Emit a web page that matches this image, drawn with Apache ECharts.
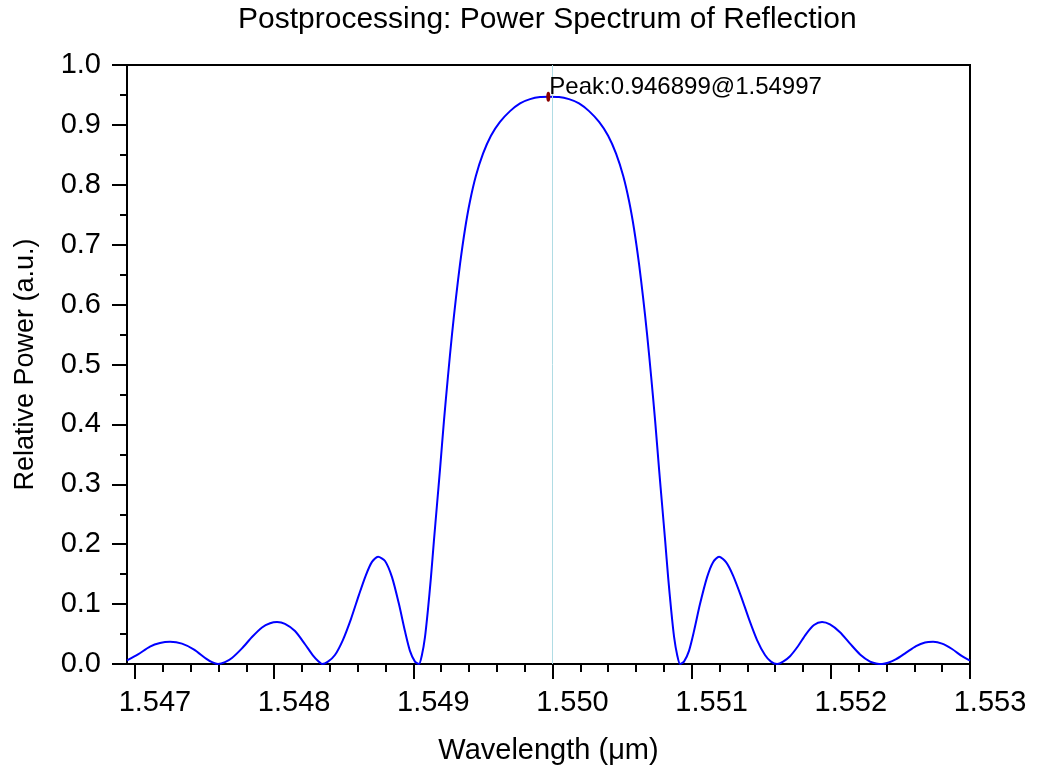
<!DOCTYPE html>
<html>
<head>
<meta charset="utf-8">
<script src="https://cdn.jsdelivr.net/npm/echarts@6/dist/echarts.min.js"></script>
<style>
html,body{margin:0;padding:0;background:#fff;}
#chart{width:1038px;height:772px;}
</style>
</head>
<body>
<div id="chart"></div>
<script>
const FONT = "'Liberation Sans', Arial, sans-serif";
const titleText = 'Postprocessing: Power Spectrum of Reflection';
const xName = 'Wavelength (\u03bcm)';
const yName = 'Relative Power (a.u.)';

const wavelength = [
  1.546943,1.547022,1.547108,1.547180,1.547252,1.547338,1.547425,1.547511,1.547554,1.547597,
  1.547647,1.547697,1.547769,1.547841,1.547913,1.547971,1.548021,1.548078,1.548150,1.548222,1.548280,1.548316,1.548344,
  1.548387,1.548437,1.548494,1.548552,1.548609,1.548659,1.548702,1.548747,1.548797,1.548847,1.548897,1.548940,1.548976,1.549012,1.549041,
  1.549062,1.549084,1.549105,1.549127,1.549148,1.549170,1.549192,1.549220,1.549249,1.549278,1.549307,1.549336,1.549371,1.549407,1.549450,1.549501,1.549558,1.549623,1.549695,1.549767,1.549839,1.549911,1.549970,
  1.550047,1.550119,1.550191,1.550263,1.550335,1.550400,1.550457,1.550508,1.550551,1.550587,1.550622,1.550651,1.550680,1.550709,1.550738,1.550766,1.550788,1.550810,1.550831,1.550853,1.550874,1.550896,1.550917,
  1.550945,1.550981,1.551017,1.551060,1.551111,1.551154,1.551197,1.551247,1.551297,1.551355,1.551412,1.551470,1.551527,1.551570,1.551614,
  1.551657,1.551707,1.551765,1.551822,1.551879,1.551937,1.551994,1.552066,1.552138,1.552210,1.552282,1.552325,1.552368,
  1.552411,1.552469,1.552541,1.552612,1.552677,1.552735,1.552799,1.552871,1.552943,1.553000
];
const power = [
  0.006,0.016,0.029,0.035,0.037,0.034,0.024,0.009,0.003,0.000,
  0.003,0.010,0.026,0.045,0.061,0.068,0.070,0.067,0.055,0.033,0.014,0.005,0.000,
  0.004,0.015,0.040,0.075,0.115,0.148,0.170,0.179,0.172,0.145,0.100,0.055,0.022,0.004,0.000,
  0.015,0.045,0.090,0.145,0.205,0.265,0.325,0.405,0.480,0.550,0.612,0.668,0.725,0.772,0.815,0.852,0.882,0.905,0.923,0.936,0.943,0.9465,0.946899,
  0.9465,0.943,0.936,0.923,0.905,0.882,0.852,0.815,0.772,0.725,0.668,0.612,0.550,0.480,0.405,0.325,0.265,0.205,0.145,0.090,0.045,0.015,0.000,
  0.004,0.022,0.055,0.100,0.145,0.170,0.179,0.170,0.148,0.113,0.075,0.040,0.015,0.004,0.000,
  0.004,0.013,0.030,0.050,0.065,0.070,0.066,0.053,0.034,0.016,0.004,0.001,0.000,
  0.002,0.008,0.019,0.030,0.036,0.037,0.034,0.025,0.013,0.0055
];

const peakWavelength = 1.54997;
const peakPower = 0.946899;
const markerWavelength = 1.55003;

const xMin = 1.546943, xMax = 1.553;
const xMajorTicks = [1.547, 1.548, 1.549, 1.550, 1.551, 1.552, 1.553];
const xMinorTicks = [
  1.5472,1.5474,1.5476,1.5478,
  1.5482,1.5484,1.5486,1.5488,
  1.5492,1.5494,1.5496,1.5498,
  1.5502,1.5504,1.5506,1.5508,
  1.5512,1.5514,1.5516,1.5518,
  1.5522,1.5524,1.5526,1.5528
];

const chart = echarts.init(document.getElementById('chart'), null, {renderer: 'canvas'});
const lineData = wavelength.map((w, i) => [w, power[i]]);

chart.setOption({
  animation: false,
  backgroundColor: '#ffffff',
  title: {
    text: titleText,
    left: 233,
    top: 0,
    textStyle: {fontFamily: FONT, fontSize: 30, fontWeight: 'normal', color: '#000'}
  },
  grid: {
    left: 127, right: 68, top: 65, bottom: 108,
    show: true, borderColor: '#000', borderWidth: 2, backgroundColor: 'transparent'
  },
  xAxis: [
    {
      type: 'value', position: 'bottom', min: xMin, max: xMax,
      name: xName, nameLocation: 'middle', nameGap: 72,
      nameTextStyle: {fontFamily: FONT, fontSize: 29, color: '#000'},
      axisLine: {show: true, onZero: false, lineStyle: {color: '#000', width: 2}},
      axisTick: {show: true, inside: false, length: 15, customValues: xMajorTicks, lineStyle: {color: '#000', width: 2}},
      axisLabel: {show: true, customValues: xMajorTicks, margin: 24, padding: [0,0,0,40],
        fontFamily: FONT, fontSize: 29, color: '#000', formatter: v => v.toFixed(3)},
      splitLine: {show: false}
    },
    {
      type: 'value', position: 'bottom', min: xMin, max: xMax,
      axisLine: {show: false, onZero: false},
      axisTick: {show: true, inside: false, length: 8, customValues: xMinorTicks, lineStyle: {color: '#000', width: 2}},
      axisLabel: {show: false},
      splitLine: {show: false}
    }
  ],
  yAxis: {
    type: 'value', min: 0, max: 1, interval: 0.1,
    name: yName, nameLocation: 'middle', nameGap: 88, nameRotate: 90,
    nameTextStyle: {fontFamily: FONT, fontSize: 27, color: '#000'},
    axisLine: {show: true, lineStyle: {color: '#000', width: 2}},
    axisTick: {show: true, inside: false, length: 15, lineStyle: {color: '#000', width: 2}},
    minorTick: {show: true, splitNumber: 2, length: 7, lineStyle: {color: '#000', width: 2}},
    axisLabel: {margin: 26, fontFamily: FONT, fontSize: 29, color: '#000', formatter: v => v.toFixed(1)},
    splitLine: {show: false},
    minorSplitLine: {show: false}
  },
  series: [
    {
      type: 'line', xAxisIndex: 0, data: lineData, showSymbol: false, smooth: 0.25,
      lineStyle: {color: '#0000ff', width: 2}, itemStyle: {color: '#0000ff'},
      silent: true,
      markLine: {
        silent: true, symbol: 'none', label: {show: false},
        lineStyle: {color: '#b0dce4', width: 1, type: 'solid', opacity: 1},
        data: [{xAxis: markerWavelength}]
      },
      z: 3
    },
    {
      type: 'scatter', xAxisIndex: 0, data: [[peakWavelength, peakPower]],
      symbol: 'circle', symbolSize: [4, 10], itemStyle: {color: '#8b0000', opacity: 1},
      label: {show: true, position: [3, -16], formatter: 'Peak:' + peakPower + '@' + peakWavelength,
        fontFamily: FONT, fontSize: 24, color: '#000', opacity: 1},
      z: 5
    }
  ]
});
</script>
</body>
</html>
